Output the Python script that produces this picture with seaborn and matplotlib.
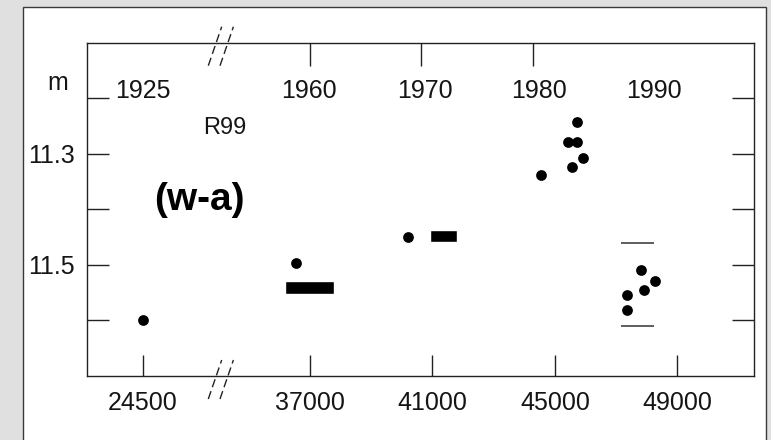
import numpy as np
import pandas as pd
import matplotlib
matplotlib.use("Agg")
import matplotlib.pyplot as plt
from matplotlib.lines import Line2D
from matplotlib.patches import Rectangle
import seaborn as sns

# ---------------- data ----------------
dot_x = [24500, 36540, 40190,
         44540, 45440, 45730, 45730, 45910, 45550,
         47370, 47370, 47820, 47910, 48270]
dot_y = [11.600, 11.497, 11.450,
         11.338, 11.278, 11.278, 11.243, 11.308, 11.323,
         11.555, 11.581, 11.510, 11.545, 11.530]

bar_x0 = [36180, 40920]
bar_x1 = [37780, 41790]
bar_ytop = [11.529, 11.438]
bar_ybot = [11.553, 11.459]

range_y = [11.460, 11.610]
range_x0 = [47150, 47150]
range_x1 = [48250, 48250]

bottom_ticks = [24500, 37000, 41000, 45000, 49000]
bottom_labels = ["24500", "37000", "41000", "45000", "49000"]
top_labels = ["1925", "1960", "1970", "1980", "1990"]
top_label_pos = [24500, 36967, 40757, 44482, 48239]
top_tick_pos = [24500, 37000, 40617, 44276]
y_ticks = [11.2, 11.3, 11.4, 11.5, 11.6]
y_labels = ["", "11.3", "", "11.5", ""]

# ---------------- broken x scale ----------------
OFFSET = 7044
LOW_MAX = 27048
HIGH_MIN = 34092


def fwd(x):
    x = np.asarray(x, dtype=float)
    return np.where(x <= LOW_MAX, x + OFFSET, np.maximum(x, HIGH_MIN))


def inv(y):
    y = np.asarray(y, dtype=float)
    return np.where(y < HIGH_MIN, y - OFFSET, y)


sns.set_style("white")
plt.rcParams["font.family"] = ["Liberation Sans", "DejaVu Sans"]

W, H = 771, 440
fig = plt.figure(figsize=(W / 100, H / 100), dpi=100)
fig.patch.set_facecolor("#e0e0e0")

# white panel with dark border
panel = Rectangle((23 / W, -0.05), (766 - 23) / W, 1.05 - 7 / H,
                  transform=fig.transFigure, facecolor="white",
                  edgecolor="#3a3a3a", linewidth=1.0, zorder=0)
fig.add_artist(panel)

ax_l, ax_r, ax_t, ax_b = 87, 754, 43, 375.7
ax = fig.add_axes([ax_l / W, 1 - ax_b / H, (ax_r - ax_l) / W, (ax_b - ax_t) / H])
ax.patch.set_alpha(0)

df = pd.DataFrame({"x": dot_x, "y": dot_y})
sns.scatterplot(data=df, x="x", y="y", ax=ax, color="black", s=60,
                linewidth=0, zorder=3)

# solid bars
ax.barh(y=[(a + b) / 2 for a, b in zip(bar_ytop, bar_ybot)],
        width=[b - a for a, b in zip(bar_x0, bar_x1)],
        height=[b - a for a, b in zip(bar_ytop, bar_ybot)],
        left=bar_x0, color="black", zorder=3)

# range lines
ax.hlines(range_y, range_x0, range_x1, color="#333333", linewidth=1.1, zorder=3)

ax.set_xscale("function", functions=(fwd, inv))
ax.set_xlim(22670, 51506)
ax.set_ylim(11.7, 11.1)

ax.set_xlabel("")
ax.set_ylabel("")

fs = 18
tc = "#151515"
ax.set_xticks(bottom_ticks)
ax.set_xticklabels(bottom_labels)
ax.set_yticks(y_ticks)
ax.set_yticklabels(y_labels)
ax.xaxis.set_minor_locator(matplotlib.ticker.NullLocator())
ax.tick_params(axis="x", which="major", direction="in", length=15, width=1.0,
               pad=11.3, labelsize=fs, labelcolor=tc, color="#222222",
               bottom=True)
ax.tick_params(axis="y", which="major", direction="in", length=15.8, width=1.0,
               pad=8.6, labelsize=fs, labelcolor=tc, color="#222222",
               left=True, right=True, labelleft=True, labelright=False)

for sp in ax.spines.values():
    sp.set_visible(True)
    sp.set_color("#222222")
    sp.set_linewidth(1.0)

# top (year) axis
ax_top = ax.twiny()
ax_top.set_xscale("function", functions=(fwd, inv))
ax_top.set_xlim(ax.get_xlim())
ax_top.set_xticks(top_label_pos)
ax_top.set_xticklabels(top_labels)
ax_top.set_xticks(top_tick_pos, minor=True)
ax_top.tick_params(axis="x", which="major", direction="in", length=0,
                   pad=-43.4, labelsize=fs, labelcolor=tc)
ax_top.tick_params(axis="x", which="minor", direction="in", length=16.3,
                   width=1.0, color="#222222", top=True)
for sp in ax_top.spines.values():
    sp.set_visible(False)

# annotations
fig.text(58 / W, 1 - 83 / H, "m", fontsize=fs, color=tc, ha="center", va="center")
ax.text((225 - ax_l) / (ax_r - ax_l), (ax_b - 134) / (ax_b - ax_t), "R99",
        transform=ax.transAxes, fontsize=17, color=tc, ha="center", va="baseline")
ax.text((199.5 - ax_l) / (ax_r - ax_l), (ax_b - 210) / (ax_b - ax_t), "(w-a)",
        transform=ax.transAxes, fontsize=28, fontweight="bold", color="black",
        ha="center", va="baseline")

# axis-break marks (//) at top and bottom
for (y0, y1) in [(65.7, 26.7), (399, 360)]:
    for dx in (0, 11.7):
        fig.add_artist(Line2D([(208.3 + dx) / W, (221.7 + dx) / W],
                              [1 - y0 / H, 1 - y1 / H],
                              transform=fig.transFigure, color="#222222",
                              linewidth=1.0, linestyle=(0, (6, 3))))

fig.savefig("out.png", dpi=100, facecolor=fig.get_facecolor())
